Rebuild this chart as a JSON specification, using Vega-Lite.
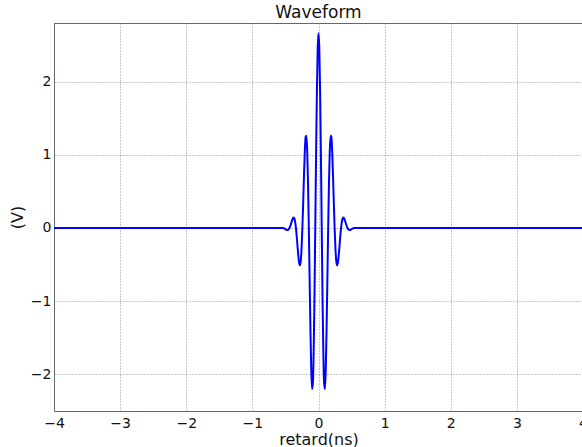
{
  "$schema": "https://vega.github.io/schema/vega-lite/v6.json",
  "autosize": {"type": "none"},
  "padding": {"left": 54, "top": 23, "right": 0, "bottom": 36},
  "width": 529,
  "height": 388,
  "background": "white",
  "title": {"text": "Waveform", "font": "DejaVu Sans", "fontSize": 17, "fontWeight": "normal", "color": "#111", "offset": 1, "anchor": "middle"},
  "config": {
    "view": {"stroke": "#666", "strokeWidth": 1},
    "axis": {
      "labelFont": "DejaVu Sans", "labelFontSize": 14, "labelColor": "#111",
      "titleFont": "DejaVu Sans", "titleFontSize": 16, "titleFontWeight": "normal", "titleColor": "#111",
      "domain": false, "ticks": false,
      "grid": true, "gridColor": "#777", "gridDash": [1, 2], "gridWidth": 1, "gridOpacity": 0.8
    }
  },
  "data": {"values": [
    {"t": -4, "v": 0},
    {"t": -0.5363, "v": 0},
    {"t": -0.5241, "v": -0.0042},
    {"t": -0.5119, "v": -0.0100},
    {"t": -0.4997, "v": -0.0167},
    {"t": -0.4875, "v": -0.0229},
    {"t": -0.4753, "v": -0.0268},
    {"t": -0.4631, "v": -0.0258},
    {"t": -0.4509, "v": -0.0174},
    {"t": -0.4388, "v": 0},
    {"t": -0.4266, "v": 0.0267},
    {"t": -0.4144, "v": 0.0607},
    {"t": -0.4022, "v": 0.0967},
    {"t": -0.39, "v": 0.127},
    {"t": -0.3778, "v": 0.1415},
    {"t": -0.3656, "v": 0.1298},
    {"t": -0.3534, "v": 0.0837},
    {"t": -0.3413, "v": 0},
    {"t": -0.3291, "v": -0.1167},
    {"t": -0.3169, "v": -0.2525},
    {"t": -0.3047, "v": -0.3838},
    {"t": -0.2925, "v": -0.4806},
    {"t": -0.2803, "v": -0.5105},
    {"t": -0.2681, "v": -0.4466},
    {"t": -0.2559, "v": -0.2746},
    {"t": -0.2438, "v": 0},
    {"t": -0.2316, "v": 0.3483},
    {"t": -0.2194, "v": 0.7184},
    {"t": -0.2072, "v": 1.0415},
    {"t": -0.195, "v": 1.2434},
    {"t": -0.1828, "v": 1.2596},
    {"t": -0.1706, "v": 1.0508},
    {"t": -0.1584, "v": 0.6162},
    {"t": -0.1463, "v": 0},
    {"t": -0.1341, "v": -0.7106},
    {"t": -0.1219, "v": -1.3975},
    {"t": -0.1097, "v": -1.9319},
    {"t": -0.0975, "v": -2.1994},
    {"t": -0.0853, "v": -2.1246},
    {"t": -0.0731, "v": -1.6901},
    {"t": -0.0609, "v": -0.9451},
    {"t": -0.0488, "v": 0},
    {"t": -0.0366, "v": 0.991},
    {"t": -0.0244, "v": 1.859},
    {"t": -0.0122, "v": 2.45},
    {"t": 0, "v": 2.66},
    {"t": 0.0122, "v": 2.45},
    {"t": 0.0244, "v": 1.859},
    {"t": 0.0366, "v": 0.991},
    {"t": 0.0488, "v": 0},
    {"t": 0.0609, "v": -0.9451},
    {"t": 0.0731, "v": -1.6901},
    {"t": 0.0853, "v": -2.1246},
    {"t": 0.0975, "v": -2.1994},
    {"t": 0.1097, "v": -1.9319},
    {"t": 0.1219, "v": -1.3975},
    {"t": 0.1341, "v": -0.7106},
    {"t": 0.1463, "v": 0},
    {"t": 0.1584, "v": 0.6162},
    {"t": 0.1706, "v": 1.0508},
    {"t": 0.1828, "v": 1.2596},
    {"t": 0.195, "v": 1.2434},
    {"t": 0.2072, "v": 1.0415},
    {"t": 0.2194, "v": 0.7184},
    {"t": 0.2316, "v": 0.3483},
    {"t": 0.2438, "v": 0},
    {"t": 0.2559, "v": -0.2746},
    {"t": 0.2681, "v": -0.4466},
    {"t": 0.2803, "v": -0.5105},
    {"t": 0.2925, "v": -0.4806},
    {"t": 0.3047, "v": -0.3838},
    {"t": 0.3169, "v": -0.2525},
    {"t": 0.3291, "v": -0.1167},
    {"t": 0.3413, "v": 0},
    {"t": 0.3534, "v": 0.0837},
    {"t": 0.3656, "v": 0.1298},
    {"t": 0.3778, "v": 0.1415},
    {"t": 0.39, "v": 0.127},
    {"t": 0.4022, "v": 0.0967},
    {"t": 0.4144, "v": 0.0607},
    {"t": 0.4266, "v": 0.0267},
    {"t": 0.4388, "v": 0},
    {"t": 0.4509, "v": -0.0174},
    {"t": 0.4631, "v": -0.0258},
    {"t": 0.4753, "v": -0.0268},
    {"t": 0.4875, "v": -0.0229},
    {"t": 0.4997, "v": -0.0167},
    {"t": 0.5119, "v": -0.0100},
    {"t": 0.5241, "v": -0.0042},
    {"t": 0.5363, "v": 0},
    {"t": 4, "v": 0}
  ]},
  "mark": {"type": "line", "color": "#0000ff", "strokeWidth": 2, "interpolate": "monotone", "clip": true},
  "encoding": {
    "x": {"field": "t", "type": "quantitative", "scale": {"domain": [-4, 4], "nice": false, "zero": false},
      "axis": {"title": "retard(ns)", "values": [-4, -3, -2, -1, 0, 1, 2, 3, 4], "format": "d", "labelPadding": 5, "titlePadding": 1, "labelFlush": false}},
    "y": {"field": "v", "type": "quantitative", "scale": {"domain": [-2.5, 2.8], "nice": false, "zero": false},
      "axis": {"title": "(V)", "values": [-2, -1, 0, 1, 2], "format": "d", "labelPadding": 3, "titlePadding": 5}}
  }
}
